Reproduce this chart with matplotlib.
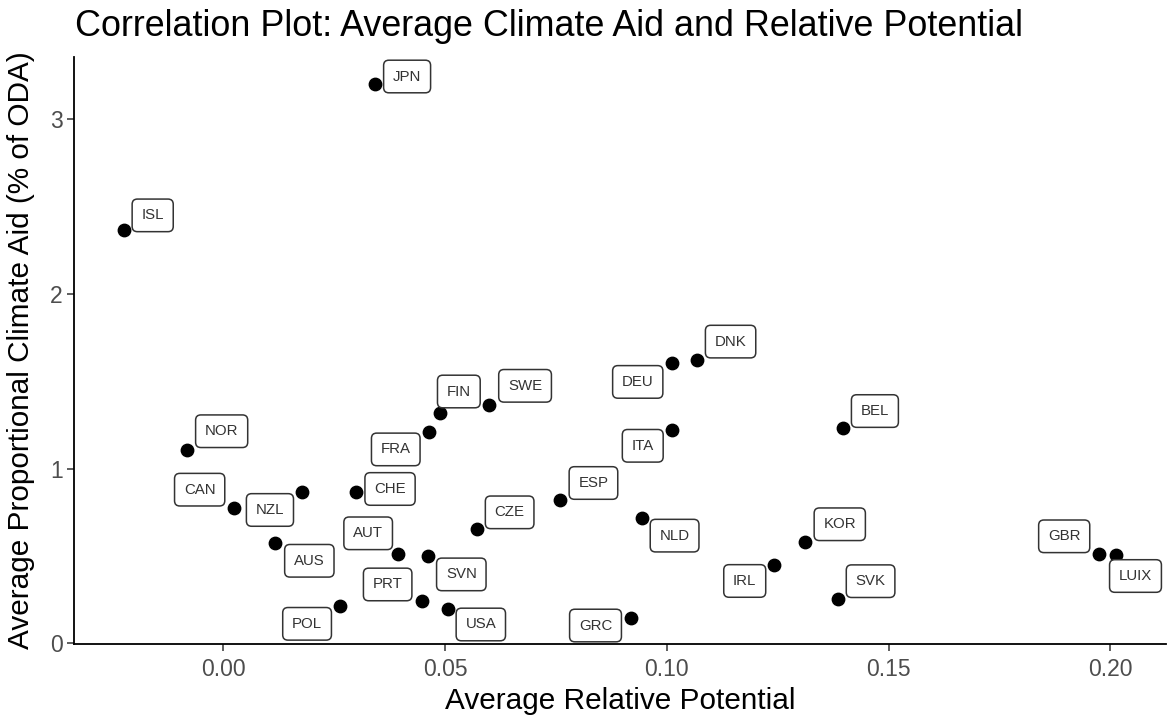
import numpy as np
import matplotlib.pyplot as plt

plt.rcParams['font.family'] = ['Liberation Sans', 'DejaVu Sans']

countries = ["JPN", "ISL", "NOR", "CAN", "NZL", "AUS", "CHE", "FRA", "FIN", "SWE",
             "AUT", "SVN", "PRT", "USA", "POL", "CZE", "ESP", "DEU", "DNK", "ITA",
             "NLD", "GRC", "IRL", "BEL", "KOR", "SVK", "GBR", "LUIX"]
rel_potential = [0.0342, -0.0225, -0.0083, 0.0023, 0.0177, 0.0117, 0.0299, 0.0463, 0.0488, 0.0599,
                 0.0394, 0.0462, 0.0447, 0.0506, 0.0263, 0.0571, 0.0760, 0.1011, 0.1067, 0.1011,
                 0.0943, 0.0918, 0.1241, 0.1397, 0.1311, 0.1385, 0.1975, 0.2014]
climate_aid = [3.205, 2.364, 1.105, 0.776, 0.866, 0.575, 0.866, 1.207, 1.321, 1.365,
               0.509, 0.497, 0.239, 0.193, 0.214, 0.652, 0.820, 1.605, 1.624, 1.222,
               0.719, 0.147, 0.448, 1.232, 0.578, 0.252, 0.509, 0.505]

# label offsets from the point, in pixels (repel-like placement)
label_offsets = {
    "JPN": (32, 7), "ISL": (29, 15), "NOR": (35, 19), "CAN": (-34, 18),
    "NZL": (-32, -18), "AUS": (34, -18), "CHE": (34, 3), "FRA": (-33, -17),
    "FIN": (19, 21), "SWE": (36, 19), "AUT": (-30, 21), "SVN": (33, -18),
    "PRT": (-34, 17), "USA": (33, -15), "POL": (-33, -18), "CZE": (33, 17),
    "ESP": (33, 17), "DEU": (-34, -19), "DNK": (34, 18), "ITA": (-29, -16),
    "NLD": (33, -18), "GRC": (-35, -8), "IRL": (-29, -16), "BEL": (32, 17),
    "KOR": (35, 18), "SVK": (33, 18), "GBR": (-35, 18), "LUIX": (19, -21),
}

fig = plt.figure(figsize=(11.68, 7.19), dpi=100)
ax = fig.add_axes([0.0634, 0.104, 0.935, 0.817])

ax.scatter(rel_potential, climate_aid, s=80, color="black", zorder=3)

for c, xv, yv in zip(countries, rel_potential, climate_aid):
    dx, dy = label_offsets[c]
    ax.annotate(c, (xv, yv), xytext=(dx, dy), textcoords="offset pixels",
                ha="center", va="center", fontsize=10.8, color="#333333",
                bbox=dict(boxstyle="round,pad=0.62,rounding_size=0.35", fc="white",
                          ec="#333333", lw=1.1), zorder=4)

xr = max(rel_potential) - min(rel_potential)
yr = max(climate_aid) - min(climate_aid)
ax.set_xlim(min(rel_potential) - 0.05 * xr, max(rel_potential) + 0.05 * xr)
ax.set_ylim(min(climate_aid) - 0.05 * yr, max(climate_aid) + 0.05 * yr)

ax.set_xticks([0.00, 0.05, 0.10, 0.15, 0.20])
ax.set_xticklabels(["0.00", "0.05", "0.10", "0.15", "0.20"])
ax.set_yticks([0, 1, 2, 3])

for s in ["top", "right"]:
    ax.spines[s].set_visible(False)
for s in ["left", "bottom"]:
    ax.spines[s].set_linewidth(1.3)
    ax.spines[s].set_color("black")
ax.tick_params(axis="both", labelsize=16.5, labelcolor="#4d4d4d", length=5, width=1.1,
               color="#333333")
ax.tick_params(axis="x", pad=5)
ax.tick_params(axis="y", pad=3)

ax.set_xlabel("Average Relative Potential", fontsize=21.4, labelpad=4)
ax.set_ylabel("Average Proportional Climate Aid (% of ODA)", fontsize=21.4, labelpad=11)
fig.text(0.064, 0.95, "Correlation Plot: Average Climate Aid and Relative Potential",
         fontsize=25.8, ha="left", va="baseline")

fig.savefig("out.png", dpi=100)
